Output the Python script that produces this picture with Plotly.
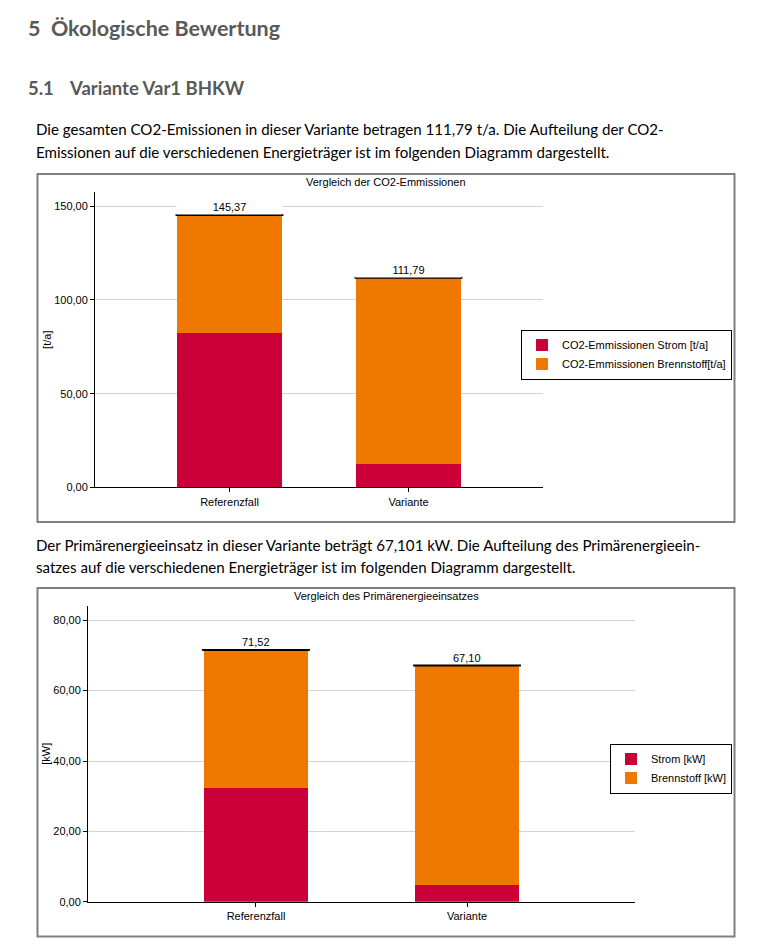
import plotly.graph_objects as go

W, H = 758, 947
YK = 1.0065  # compensation for the slight vertical compression seen in the capture

# ---------------- data ----------------
categories = ["Referenzfall", "Variante"]

co2_strom = [82.5, 12.3]
co2_brennstoff = [62.87, 99.49]
co2_total = [145.37, 111.79]

pe_strom = [32.4, 4.74]
pe_brennstoff = [39.12, 62.36]
pe_total = [71.52, 67.10]

co2_names = ["CO2-Emmissionen Strom [t/a]", "CO2-Emmissionen Brennstoff[t/a]"]
pe_names = ["Strom [kW]", "Brennstoff [kW]"]

RED = "#CC0038"
ORANGE = "#EF7800"
CHART_FONT = "Liberation Sans"
DOC_FONT = "Lato"


def px(x):
    return x / W


def py(y):
    return 1 - (y * YK) / H


fig = go.Figure()

TOTAL_MARKER = dict(symbol="line-ew", size=77, line=dict(width=2, color="black"))

# ---------- chart 1 ----------
fig.add_trace(go.Bar(x=categories, y=co2_strom, name=co2_names[0], marker_color=RED,
                     marker_line_width=0, width=0.587, xaxis="x", yaxis="y", legend="legend",
                     hoverinfo="skip"))
fig.add_trace(go.Bar(x=categories, y=co2_brennstoff, name=co2_names[1], marker_color=ORANGE,
                     marker_line_width=0, width=0.587, xaxis="x", yaxis="y", legend="legend",
                     hoverinfo="skip"))
fig.add_trace(go.Scatter(x=categories, y=co2_total, mode="markers", xaxis="x", yaxis="y",
                         marker=TOTAL_MARKER, showlegend=False, hoverinfo="skip"))

# ---------- chart 2 ----------
fig.add_trace(go.Bar(x=categories, y=pe_strom, name=pe_names[0], marker_color=RED,
                     marker_line_width=0, width=0.493, xaxis="x2", yaxis="y2", legend="legend2",
                     hoverinfo="skip"))
fig.add_trace(go.Bar(x=categories, y=pe_brennstoff, name=pe_names[1], marker_color=ORANGE,
                     marker_line_width=0, width=0.493, xaxis="x2", yaxis="y2", legend="legend2",
                     hoverinfo="skip"))
fig.add_trace(go.Scatter(x=categories, y=pe_total, mode="markers", xaxis="x2", yaxis="y2",
                         marker=TOTAL_MARKER, showlegend=False, hoverinfo="skip"))


def fmt(v):
    return f"{v:.2f}".replace(".", ",")


annotations = []
for c, v in zip(categories, co2_total):
    annotations.append(dict(x=c, y=v, xref="x", yref="y", text=fmt(v), showarrow=False,
                            yanchor="bottom", yshift=0, bgcolor="white", width=103,
                            font=dict(family=CHART_FONT, size=11, color="black")))
for c, v in zip(categories, pe_total):
    annotations.append(dict(x=c, y=v, xref="x2", yref="y2", text=fmt(v), showarrow=False,
                            yanchor="bottom", yshift=0,
                            font=dict(family=CHART_FONT, size=11, color="black")))

# chart titles
annotations.append(dict(x=px(386), y=py(182), xref="paper", yref="paper",
                        text="Vergleich der CO2-Emmissionen", showarrow=False,
                        xanchor="center", yanchor="middle",
                        font=dict(family=CHART_FONT, size=11, color="black")))
annotations.append(dict(x=px(386), y=py(596), xref="paper", yref="paper",
                        text="Vergleich des Primärenergieeinsatzes", showarrow=False,
                        xanchor="center", yanchor="middle",
                        font=dict(family=CHART_FONT, size=11, color="black")))

# document text
GRAY = "#595959"
annotations.append(dict(x=px(26), y=py(28), xref="paper", yref="paper",
                        text="5  Ökologische Bewertung", showarrow=False,
                        xanchor="left", yanchor="middle",
                        font=dict(family=DOC_FONT, size=21.5, color=GRAY, weight="bold")))
annotations.append(dict(x=px(26), y=py(88), xref="paper", yref="paper",
                        text="5.1", showarrow=False,
                        xanchor="left", yanchor="middle",
                        font=dict(family=DOC_FONT, size=18.5, color=GRAY, weight="bold")))
annotations.append(dict(x=px(67), y=py(88), xref="paper", yref="paper",
                        text="Variante Var1 BHKW", showarrow=False,
                        xanchor="left", yanchor="middle",
                        font=dict(family=DOC_FONT, size=18.5, color=GRAY, weight="bold")))

para_lines = [
    (129, "Die gesamten CO2-Emissionen in dieser Variante betragen 111,79 t/a. Die Aufteilung der CO2-"),
    (152, "Emissionen auf die verschiedenen Energieträger ist im folgenden Diagramm dargestellt."),
    (545, "Der Primärenergieeinsatz in dieser Variante beträgt 67,101 kW. Die Aufteilung des Primärenergieein-"),
    (567, "satzes auf die verschiedenen Energieträger ist im folgenden Diagramm dargestellt."),
]
for yy, t in para_lines:
    annotations.append(dict(x=px(34), y=py(yy), xref="paper", yref="paper", text=t,
                            showarrow=False, xanchor="left", yanchor="middle",
                            font=dict(family=DOC_FONT, size=15.1, color="black")))

shapes = [
    dict(type="rect", xref="paper", yref="paper", x0=px(37.5), x1=px(734.5),
         y0=py(174), y1=py(522), line=dict(color="#7F7F7F", width=2)),
    dict(type="rect", xref="paper", yref="paper", x0=px(37.5), x1=px(734.5),
         y0=py(588), y1=py(936.5), line=dict(color="#7F7F7F", width=2)),
]

axis_common = dict(showline=True, linecolor="black", linewidth=1, ticks="outside",
                   ticklen=4, tickcolor="black", zeroline=False,
                   tickfont=dict(family=CHART_FONT, size=11, color="black"))

legend_common = dict(bordercolor="black", borderwidth=1, bgcolor="white",
                     traceorder="normal", itemwidth=30, xanchor="right", yanchor="middle",
                     font=dict(family=CHART_FONT, size=11, color="black"),
                     itemclick=False, itemdoubleclick=False)

fig.update_layout(
    width=W, height=H, margin=dict(l=0, r=0, t=0, b=0),
    paper_bgcolor="white", plot_bgcolor="white",
    barmode="stack", separators=",.",
    showlegend=True,
    xaxis=dict(domain=[px(95), px(543)], range=[-0.751, 1.751], anchor="y",
               showgrid=False, **axis_common),
    yaxis=dict(domain=[py(487.3), py(192)], range=[0, 157.6], anchor="x",
               tickvals=[0, 50, 100, 150], tickformat=".2f",
               showgrid=True, gridcolor="#D4D4D4", gridwidth=1,
               title=dict(text="[t/a]", standoff=0,
                          font=dict(family=CHART_FONT, size=11, color="black")),
               **axis_common),
    xaxis2=dict(domain=[px(88), px(635)], range=[-0.796, 1.796], anchor="y2",
                showgrid=False, **axis_common),
    yaxis2=dict(domain=[py(901.7), py(605.7)], range=[0, 84.1], anchor="x2",
                tickvals=[0, 20, 40, 60, 80], tickformat=".2f",
                showgrid=True, gridcolor="#D4D4D4", gridwidth=1,
                title=dict(text="[kW]", standoff=0,
                           font=dict(family=CHART_FONT, size=11, color="black")),
                **axis_common),
    legend=dict(x=px(732), y=py(354.5), **legend_common),
    legend2=dict(x=px(732), y=py(768.5), **legend_common),
    annotations=annotations,
    shapes=shapes,
)

fig.write_html(
    "out.html",
    config={"displayModeBar": False},
    post_script=(
        "document.body.style.margin='0';"
        "document.body.style.height='947px';"
        "document.body.style.overflow='hidden';"
        "document.documentElement.style.overflow='hidden';"
    ),
)
